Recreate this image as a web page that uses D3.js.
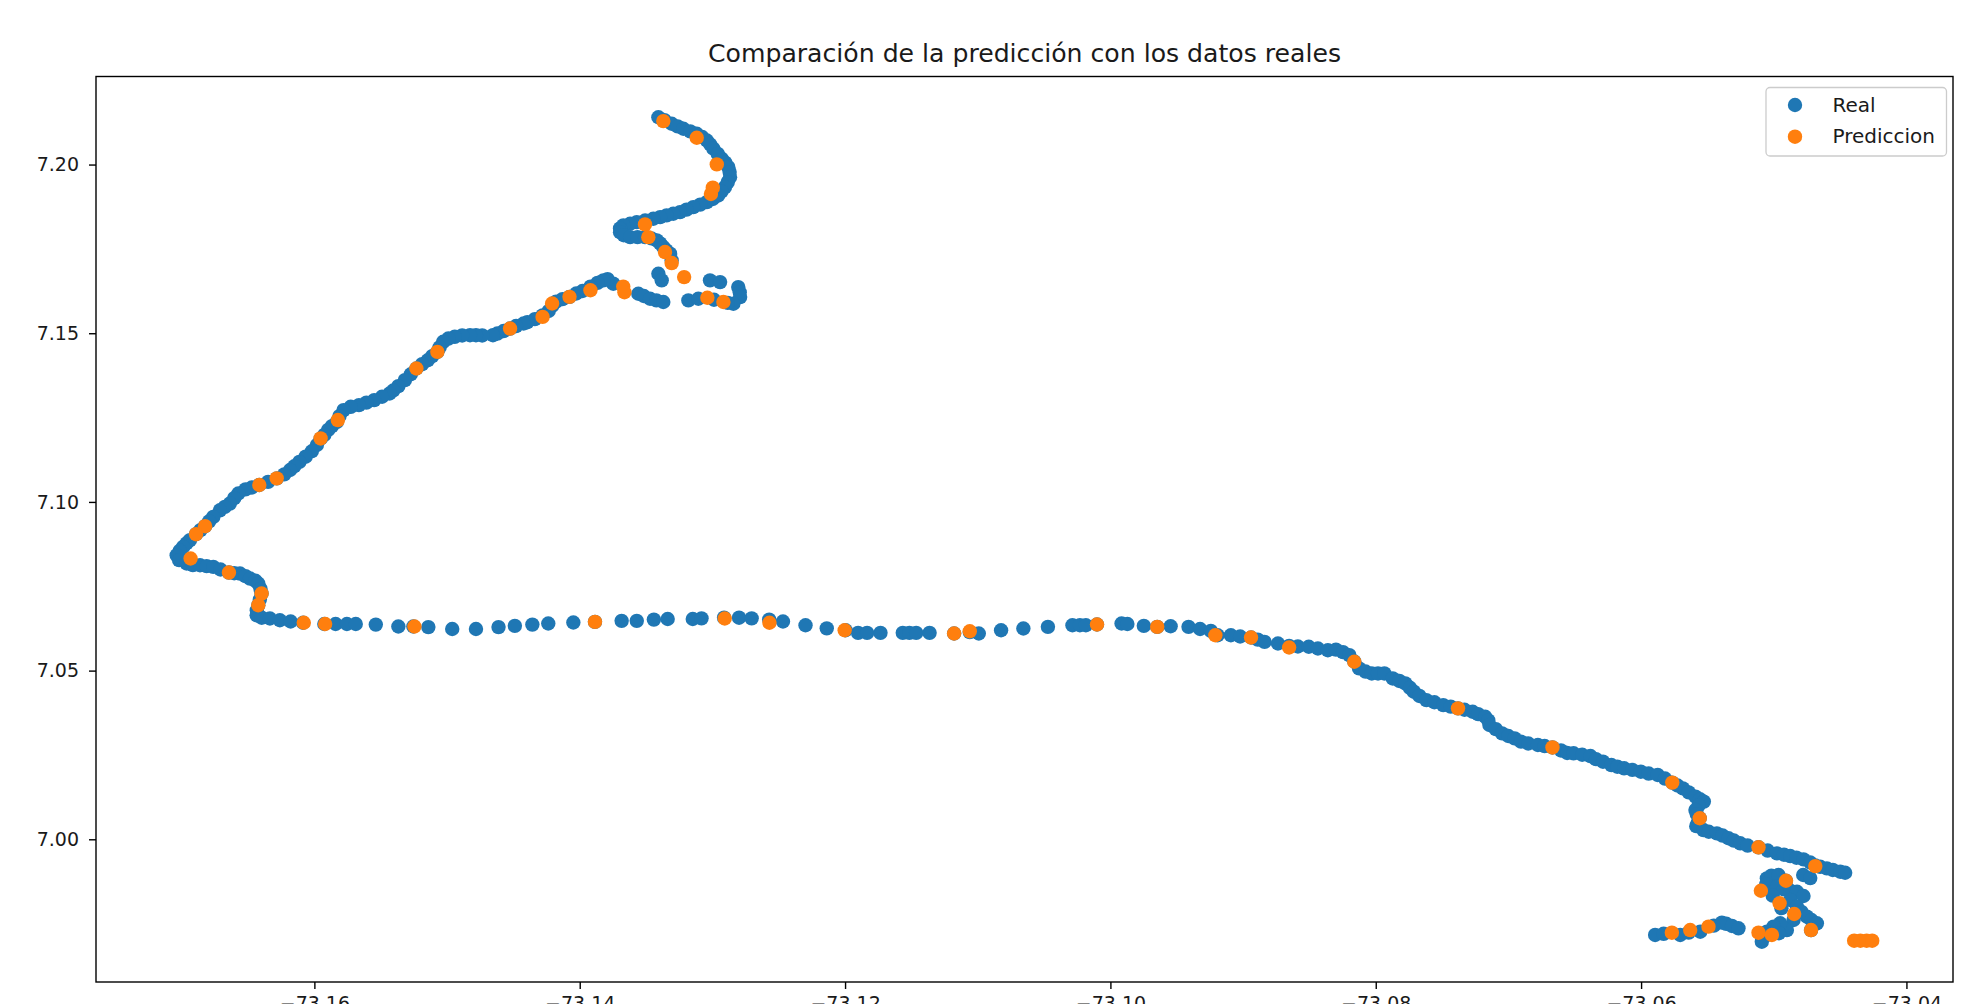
<!DOCTYPE html>
<html>
<head>
<meta charset="utf-8">
<script src="https://cdn.jsdelivr.net/npm/d3@7"></script>
<style>
  body { margin: 0; background: #fff; }
  svg { display: block; font-family: "DejaVu Sans", sans-serif; }
</style>
</head>
<body>
<div id="area_scatter"></div>
<script>
// Real track (blue), lon / lat in the same order
const realLon = [
  -73.13407, -73.13361, -73.13307, -73.13262, -73.13219, -73.13167, -73.13118, -73.13077, -73.13042, -73.13016,
  -73.12992, -73.12959, -73.12929, -73.12903, -73.12880, -73.12870, -73.12867, -73.12884, -73.12905, -73.12931,
  -73.12956, -73.12997, -73.13042, -73.13092, -73.13144, -73.13195, -73.13244, -73.13295, -73.13345, -73.13394,
  -73.13445, -73.13507, -73.13570, -73.13620, -73.13671, -73.13696, -73.13696, -73.13668, -73.13620, -73.13564,
  -73.13508, -73.13460, -73.13419, -73.13394, -73.13370, -73.13347, -73.13319, -73.13307, -73.13407, -73.13382,
  -73.13018, -73.12942, -73.12805, -73.12794, -73.12791, -73.12842, -73.12884, -73.13181, -73.13106, -73.12988,
  -73.13558, -73.13517, -73.13470, -73.13422, -73.13370,
  -73.13747, -73.13790, -73.13822, -73.13866, -73.13919, -73.13979, -73.14026, -73.14077, -73.14130, -73.14178,
  -73.14208, -73.14234, -73.14280, -73.14338, -73.14395, -73.14423, -73.14480, -73.14525, -73.14574, -73.14621,
  -73.14654, -73.14735, -73.14782, -73.14827, -73.14886, -73.14942, -73.14990, -73.15029, -73.15056, -73.15073,
  -73.15112, -73.15145, -73.15188, -73.15231, -73.15273, -73.15318, -73.15367, -73.15405, -73.15433, -73.15490,
  -73.15549, -73.15608, -73.15664, -73.15726, -73.15780, -73.15811, -73.15830, -73.15868, -73.15896, -73.15925,
  -73.15953, -73.15981, -73.16019, -73.16066, -73.16113, -73.16151, -73.16183, -73.16227, -73.16283, -73.16349,
  -73.16416, -73.16472, -73.16519, -73.16573, -73.16604, -73.16637, -73.16675, -73.16712, -73.16762, -73.16793,
  -73.16824, -73.16859, -73.16892, -73.16938, -73.16963, -73.16989, -73.17015, -73.17038, -73.17020, -73.16963,
  -73.16916, -73.16862, -73.16812, -73.16762, -73.16708, -73.16644, -73.16604, -73.16561, -73.16519, -73.16485,
  -73.16444, -73.16423, -73.16406, -73.16398, -73.16411, -73.16423, -73.16434, -73.16435, -73.16397, -73.16335,
  -73.16260,
  -73.16179, -73.16085, -73.15925, -73.15840, -73.15755, -73.15688, -73.15537, -73.15367, -73.15254, -73.15141,
  -73.14961, -73.14782, -73.14612, -73.14489, -73.14357, -73.14237, -73.14048, -73.13885, -73.13684, -73.13570,
  -73.13441, -73.13337, -73.13148, -73.13082, -73.12912, -73.12799, -73.12704, -73.12572, -73.12468, -73.12298,
  -73.12138, -73.11996,
  -73.11902, -73.11834, -73.11733, -73.11565, -73.11515, -73.11464, -73.11363, -73.11178, -73.11060, -73.10992,
  -73.10824, -73.10656, -73.10471, -73.10286, -73.10230, -73.10185, -73.10101, -73.09916, -73.09872, -73.09748,
  -73.09647, -73.09546, -73.09411, -73.09324, -73.09243, -73.09192, -73.09092, -73.09022, -73.08940, -73.08889,
  -73.08838, -73.08737, -73.08653, -73.08587, -73.08505, -73.08436, -73.08361, -73.08300, -73.08247, -73.08199,
  -73.08162, -73.08126, -73.08077, -73.08030, -73.07983, -73.07935, -73.07872, -73.07822, -73.07777, -73.07742,
  -73.07713, -73.07671, -73.07618, -73.07558, -73.07491, -73.07435, -73.07380, -73.07331, -73.07270, -73.07228,
  -73.07175, -73.07152, -73.07143, -73.07095, -73.07048, -73.07001, -73.06953, -73.06905, -73.06850, -73.06778,
  -73.06727, -73.06668, -73.06604, -73.06557, -73.06509, -73.06444, -73.06382, -73.06340, -73.06287, -73.06224,
  -73.06179, -73.06128, -73.06066, -73.06002, -73.05943, -73.05875, -73.05820, -73.05765, -73.05726, -73.05685,
  -73.05641, -73.05590, -73.05556, -73.05527, -73.05566, -73.05590, -73.05580, -73.05558, -73.05574, -73.05584,
  -73.05530, -73.05490, -73.05429, -73.05386, -73.05341, -73.05301, -73.05253, -73.05197, -73.05115, -73.05046,
  -73.04976, -73.04923, -73.04876, -73.04829, -73.04776, -73.04725, -73.04687, -73.04650, -73.04600, -73.04555,
  -73.04499, -73.04462, -73.04778, -73.04725,
  -73.05052, -73.05018, -73.04964, -73.04908, -73.05056, -73.04976, -73.04923, -73.04876, -73.04825, -73.04776,
  -73.05008, -73.04876, -73.04942, -73.04825, -73.04791, -73.04750, -73.04716, -73.04675, -73.04719, -73.04851,
  -73.04901, -73.04952, -73.05002, -73.05052, -73.05037, -73.04961, -73.05090,
  -73.05894, -73.05830, -73.05705, -73.05641, -73.05554, -73.05452, -73.05391, -73.05358, -73.05315, -73.05266
];
const realLat = [
  7.21403, 7.21317, 7.21210, 7.21132, 7.21061, 7.20983, 7.20913, 7.20816, 7.20712, 7.20594,
  7.20468, 7.20315, 7.20171, 7.20056, 7.19922, 7.19777, 7.19625, 7.19480, 7.19332, 7.19202,
  7.19084, 7.18980, 7.18887, 7.18813, 7.18738, 7.18664, 7.18590, 7.18542, 7.18493, 7.18442,
  7.18393, 7.18341, 7.18293, 7.18245, 7.18197, 7.18108, 7.17996, 7.17904, 7.17848, 7.17848,
  7.17848, 7.17811, 7.17751, 7.17662, 7.17555, 7.17458, 7.17358, 7.17158, 7.16764, 7.16568,
  7.16568, 7.16516, 7.16367, 7.16215, 7.16071, 7.15874, 7.15900, 7.15974, 7.16022, 7.15993,
  7.16171, 7.16104, 7.16022, 7.15974, 7.15926,
  7.16468, 7.16605, 7.16568, 7.16494, 7.16382, 7.16252, 7.16178, 7.16078, 7.16011, 7.15937,
  7.15807, 7.15659, 7.15529, 7.15417, 7.15325, 7.15288, 7.15213, 7.15139, 7.15065, 7.14991,
  7.14942, 7.14935, 7.14942, 7.14942, 7.14935, 7.14894, 7.14842, 7.14746, 7.14583, 7.14449,
  7.14323, 7.14200, 7.14082, 7.13955, 7.13785, 7.13610, 7.13432, 7.13302, 7.13213, 7.13117,
  7.13017, 7.12942, 7.12868, 7.12820, 7.12720, 7.12542, 7.12375, 7.12245, 7.12134, 7.11985,
  7.11874, 7.11688, 7.11503, 7.11340, 7.11187, 7.11057, 7.10946, 7.10816, 7.10698, 7.10594,
  7.10501, 7.10427, 7.10371, 7.10249, 7.10111, 7.09952, 7.09852, 7.09751, 7.09555, 7.09425,
  7.09280, 7.09165, 7.09043, 7.08865, 7.08776, 7.08668, 7.08553, 7.08419, 7.08275, 7.08174,
  7.08126, 7.08122, 7.08096, 7.08074, 7.07996, 7.07907, 7.07885, 7.07877, 7.07800, 7.07729,
  7.07662, 7.07581, 7.07421, 7.07284, 7.07106, 7.06939, 7.06790, 7.06642, 7.06568, 7.06545,
  7.06493,
  7.06456, 7.06419, 7.06382, 7.06382, 7.06382, 7.06382, 7.06364, 7.06308, 7.06308, 7.06289,
  7.06234, 7.06234, 7.06289, 7.06326, 7.06364, 7.06397, 7.06426, 7.06445, 7.06475, 7.06475,
  7.06512, 7.06530, 7.06530, 7.06549, 7.06568, 7.06568, 7.06549, 7.06512, 7.06456, 7.06345,
  7.06252, 7.06197,
  7.06119, 7.06119, 7.06119, 7.06119, 7.06119, 7.06119, 7.06119, 7.06100, 7.06141, 7.06100,
  7.06197, 7.06249, 7.06297, 7.06345, 7.06345, 7.06345, 7.06367, 7.06397, 7.06382, 7.06326,
  7.06297, 7.06315, 7.06297, 7.06234, 7.06178, 7.06048, 7.06048, 7.06011, 7.05981, 7.05918,
  7.05852, 7.05803, 7.05733, 7.05714, 7.05707, 7.05655, 7.05603, 7.05621, 7.05547, 7.05458,
  7.05269, 7.05065, 7.04972, 7.04916, 7.04916, 7.04916, 7.04768, 7.04694, 7.04620, 7.04490,
  7.04375, 7.04249, 7.04126, 7.04063, 7.03978, 7.03933, 7.03881, 7.03840, 7.03781, 7.03711,
  7.03633, 7.03525, 7.03388, 7.03265, 7.03139, 7.03061, 7.02991, 7.02894, 7.02839, 7.02794,
  7.02764, 7.02723, 7.02634, 7.02560, 7.02549, 7.02505, 7.02467, 7.02375, 7.02300, 7.02200,
  7.02152, 7.02104, 7.02059, 7.02004, 7.01948, 7.01907, 7.01800, 7.01681, 7.01595, 7.01510,
  7.01391, 7.01265, 7.01187, 7.01117, 7.01002, 7.00868, 7.00742, 7.00623, 7.00482, 7.00390,
  7.00274, 7.00223, 7.00174, 7.00111, 7.00030, 6.99963, 6.99881, 6.99814, 6.99762, 6.99666,
  6.99584, 6.99543, 6.99503, 6.99454, 6.99406, 6.99313, 6.99221, 6.99184, 6.99139, 6.99091,
  6.99039, 6.99009, 6.98942, 6.98850,
  6.98842, 6.98924, 6.98942, 6.98772, 6.98664, 6.98594, 6.98516, 6.98479, 6.98445, 6.98319,
  6.98330, 6.98200, 6.97959, 6.98000, 6.97848, 6.97707, 6.97607, 6.97510, 6.97310, 6.97607,
  6.97310, 6.97510, 6.97410, 6.97261, 6.97180, 6.97217, 6.96965,
  6.97165, 6.97198, 6.97165, 6.97235, 6.97261, 6.97440, 6.97529, 6.97495, 6.97432, 6.97362
];

// Prediction (orange)
const predLon = [
  -73.13370, -73.13118, -73.12967, -73.12997, -73.13011, -73.13508, -73.13483, -73.13357, -73.13307, -73.13213,
  -73.13672, -73.13663, -73.13038, -73.12917,
  -73.13919, -73.14077, -73.14208, -73.14280, -73.14525, -73.15073, -73.15231, -73.15823, -73.15953, -73.16284, -73.16415,
  -73.16824, -73.16892, -73.16933, -73.16644, -73.16398, -73.16423,
  -73.16080, -73.15919, -73.15246, -73.13885, -73.12907, -73.12570, -73.12003,
  -73.11178, -73.11060, -73.10101, -73.09647, -73.09209, -73.08940, -73.08653, -73.08162, -73.07380, -73.06668,
  -73.05765, -73.05558, -73.05115, -73.04687,
  -73.04908, -73.05097, -73.04956, -73.04846, -73.04719, -73.05115, -73.05014,
  -73.05768, -73.05630, -73.05492,
  -73.04394, -73.04347, -73.04300, -73.04258
];
const predLat = [
  7.21288, 7.20794, 7.20004, 7.19314, 7.19128, 7.18226, 7.17848, 7.17406, 7.17080, 7.16664,
  7.16382, 7.16215, 7.16052, 7.15926,
  7.16275, 7.16078, 7.15881, 7.15484, 7.15139, 7.14449, 7.13955, 7.12427, 7.11881, 7.10698, 7.10501,
  7.09280, 7.09043, 7.08323, 7.07907, 7.07284, 7.06939,
  7.06419, 7.06382, 7.06308, 7.06445, 7.06545, 7.06419, 7.06197,
  7.06100, 7.06167, 7.06367, 7.06297, 7.06048, 7.05981, 7.05685, 7.05262, 7.03881, 7.02723,
  7.01681, 7.00623, 6.99762, 6.99206,
  6.98772, 6.98475, 6.98104, 6.97785, 6.97310, 6.97232, 6.97165,
  6.97232, 6.97310, 6.97410,
  6.96994, 6.96994, 6.96994, 6.96994
];

const xTicks = [-73.16, -73.14, -73.12, -73.10, -73.08, -73.06, -73.04];
const yTicks = [7.00, 7.05, 7.10, 7.15, 7.20];
const xDomain = [-73.17646, -73.03649];
const yDomain = [6.9577, 7.2261];
const seriesNames = ["Real", "Prediccion"];
const seriesColors = ["#1f77b4", "#ff7f0e"];
const titleText = "Comparación de la predicción con los datos reales";

function scatterplot(){
    let dimensions = {
        width: 1964,
        height: 1004,
        margin: {
            top: 76.5,
            left: 96,
            right: 11,
            bottom: 22
        }
    };
    dimensions.boundedWidth = dimensions.width - dimensions.margin.left - dimensions.margin.right;
    dimensions.boundedHeight = dimensions.height - dimensions.margin.top - dimensions.margin.bottom;

    const svg = d3.select("#area_scatter").append("svg")
        .attr("width", dimensions.width)
        .attr("height", dimensions.height);

    svg.append("text")
        .attr("x", dimensions.margin.left + dimensions.boundedWidth / 2)
        .attr("y", 62)
        .attr("text-anchor", "middle")
        .attr("font-size", 24)
        .attr("textLength", 633)
        .attr("lengthAdjust", "spacingAndGlyphs")
        .attr("fill", "#1a1a1a")
        .text(titleText);

    const bounded = svg.append("g")
        .attr("transform", `translate(${dimensions.margin.left},${dimensions.margin.top})`);

    const xScale = d3.scaleLinear()
        .domain(xDomain)
        .range([0, dimensions.boundedWidth]);

    const yScale = d3.scaleLinear()
        .domain(yDomain)
        .range([dimensions.boundedHeight, 0]);

    const real = realLon.map((d, i) => ({lon: d, lat: realLat[i]}));
    const pred = predLon.map((d, i) => ({lon: d, lat: predLat[i]}));

    bounded.append("g").selectAll("circle")
        .data(real)
        .join("circle")
        .attr("cx", d => xScale(d.lon))
        .attr("cy", d => yScale(d.lat))
        .attr("r", 7.2)
        .attr("fill", seriesColors[0]);

    bounded.append("g").selectAll("circle")
        .data(pred)
        .join("circle")
        .attr("cx", d => xScale(d.lon))
        .attr("cy", d => yScale(d.lat))
        .attr("r", 7.2)
        .attr("fill", seriesColors[1]);

    const xAxis = d3.axisBottom(xScale)
        .tickValues(xTicks)
        .tickFormat(d3.format(".2f"))
        .tickSize(7)
        .tickPadding(8);
    const yAxis = d3.axisLeft(yScale)
        .tickValues(yTicks)
        .tickFormat(d3.format(".2f"))
        .tickSize(7)
        .tickPadding(10);

    const gx = bounded.append("g")
        .attr("transform", `translate(0,${dimensions.boundedHeight})`)
        .call(xAxis);
    const gy = bounded.append("g")
        .call(yAxis);

    [gx, gy].forEach(g => {
        g.select(".domain").remove();
        g.attr("font-size", 19).attr("font-family", "DejaVu Sans, sans-serif");
        g.selectAll("line").attr("stroke", "#000").attr("stroke-width", 1.4);
        g.selectAll("text").attr("fill", "#1a1a1a");
    });

    // frame (spines)
    bounded.append("rect")
        .attr("width", dimensions.boundedWidth)
        .attr("height", dimensions.boundedHeight)
        .attr("fill", "none")
        .attr("stroke", "#000")
        .attr("stroke-width", 1.4);

    // legend
    const legend = svg.append("g")
        .attr("transform", "translate(1766,87.5)");
    legend.append("rect")
        .attr("width", 180.5)
        .attr("height", 68.5)
        .attr("rx", 4)
        .attr("fill", "#fff")
        .attr("fill-opacity", 0.8)
        .attr("stroke", "#cccccc")
        .attr("stroke-width", 1.3);
    seriesNames.forEach((name, i) => {
        const row = legend.append("g")
            .attr("transform", `translate(0,${17.5 + i * 31.7})`);
        row.append("circle")
            .attr("cx", 29)
            .attr("cy", 0)
            .attr("r", 7.2)
            .attr("fill", seriesColors[i]);
        row.append("text")
            .attr("x", 66.5)
            .attr("y", 6.7)
            .attr("font-size", 20)
            .attr("fill", "#1a1a1a")
            .text(name);
    });
}

scatterplot()
</script>
</body>
</html>
